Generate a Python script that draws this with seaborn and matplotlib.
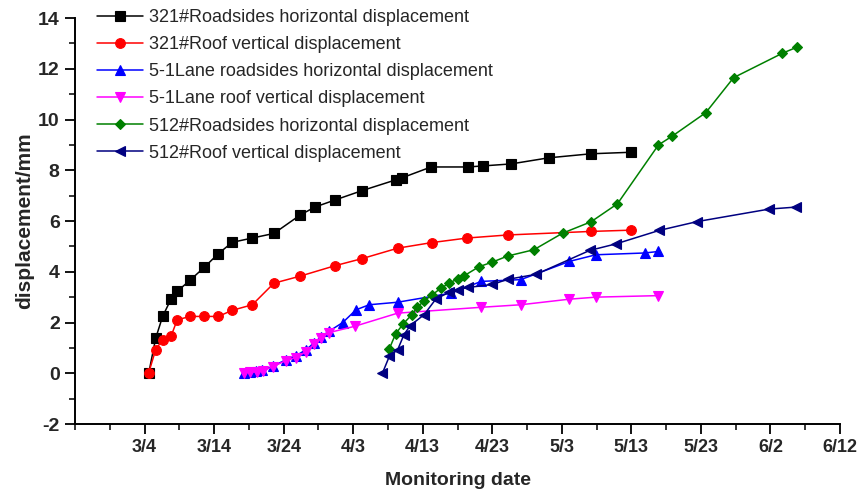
import matplotlib
matplotlib.use("Agg")
import matplotlib.pyplot as plt
from matplotlib.ticker import MultipleLocator
import pandas as pd
import seaborn as sns

# Monitoring day (days after 3/4) and displacement in mm for each survey line
day_321_side = [0.6, 1.6, 2.6, 3.8, 4.7, 6.6, 8.6, 10.6, 12.6, 15.5, 18.6, 22.4, 24.5,
                27.4, 31.3, 36.1, 37.0, 41.2, 46.5, 48.6, 52.7, 58.1, 64.2, 70.0]
disp_321_side = [0.0, 1.38, 2.24, 2.92, 3.23, 3.68, 4.18, 4.71, 5.16, 5.33, 5.51, 6.24, 6.55,
                 6.83, 7.20, 7.62, 7.70, 8.13, 8.13, 8.17, 8.25, 8.49, 8.65, 8.71]

day_321_roof = [0.6, 1.6, 2.6, 3.8, 4.7, 6.6, 8.6, 10.6, 12.6, 15.5, 18.6, 22.4, 27.4,
                31.3, 36.4, 41.3, 46.4, 52.2, 64.2, 70.0]
disp_321_roof = [0.02, 0.93, 1.33, 1.45, 2.11, 2.24, 2.24, 2.24, 2.48, 2.70, 3.55, 3.83, 4.24,
                 4.52, 4.93, 5.15, 5.33, 5.45, 5.59, 5.64]

day_51_side = [14.3, 15.1, 16.0, 16.9, 18.4, 20.3, 21.8, 23.2, 24.4, 25.4, 26.5, 28.5,
               30.4, 32.3, 36.4, 44.1, 48.4, 54.1, 61.1, 64.9, 71.9, 73.9]
disp_51_side = [0.03, 0.06, 0.08, 0.12, 0.27, 0.53, 0.69, 0.93, 1.19, 1.43, 1.65, 2.00,
                2.50, 2.70, 2.80, 3.16, 3.62, 3.69, 4.41, 4.67, 4.74, 4.80]

day_51_roof = [14.3, 15.2, 16.2, 17.0, 18.4, 20.3, 21.8, 23.2, 24.4, 25.4, 26.5, 30.2,
               36.4, 48.4, 54.1, 61.1, 64.9, 73.9]
disp_51_roof = [0.02, 0.05, 0.05, 0.10, 0.25, 0.50, 0.62, 0.85, 1.15, 1.40, 1.60, 1.85,
                2.37, 2.60, 2.70, 2.92, 3.00, 3.06]

day_512_side = [35.2, 36.1, 37.2, 38.4, 39.2, 40.2, 41.4, 42.6, 43.8, 45.0, 46.0, 48.1,
                50.0, 52.2, 56.0, 60.1, 64.2, 68.0, 73.9, 75.9, 80.7, 84.7, 91.7, 93.8]
disp_512_side = [0.97, 1.55, 1.95, 2.30, 2.60, 2.85, 3.10, 3.35, 3.55, 3.72, 3.85, 4.20,
                 4.38, 4.62, 4.87, 5.52, 5.97, 6.68, 9.00, 9.35, 10.27, 11.65, 12.61, 12.85]

day_512_roof = [34.2, 35.2, 36.4, 37.3, 38.2, 40.2, 41.9, 43.8, 45.0, 46.5, 50.0, 52.2,
                56.3, 64.0, 67.8, 74.0, 79.5, 89.8, 93.7]
disp_512_roof = [0.0, 0.67, 0.93, 1.52, 1.88, 2.31, 2.93, 3.19, 3.30, 3.38, 3.50, 3.70,
                 3.90, 4.84, 5.10, 5.63, 5.98, 6.47, 6.55]

series_names = [
    "321#Roadsides horizontal displacement",
    "321#Roof vertical displacement",
    "5-1Lane roadsides horizontal displacement",
    "5-1Lane roof vertical displacement",
    "512#Roadsides horizontal displacement",
    "512#Roof vertical displacement",
]

date_labels = ["3/4", "3/14", "3/24", "4/3", "4/13", "4/23", "5/3", "5/13", "5/23", "6/2", "6/12"]

sns.set_theme(style="ticks")
plt.rcParams["font.family"] = ["Liberation Sans", "DejaVu Sans"]
plt.rcParams["axes.unicode_minus"] = False

series = [
    (day_321_side, disp_321_side, "black", "s", 6.5),
    (day_321_roof, disp_321_roof, "#ff0000", "o", 7.0),
    (day_51_side, disp_51_side, "#0000ff", "^", 7.0),
    (day_51_roof, disp_51_roof, "#ff00ff", "v", 7.0),
    (day_512_side, disp_512_side, "#008000", "D", 5.5),
    (day_512_roof, disp_512_roof, "#000080", "<", 7.0),
]

fig = plt.figure(figsize=(8.62, 4.95), dpi=100)
ax = fig.add_axes([0.087, 0.1434, 0.8875, 0.8202])

for (x, y, color, marker, ms), name in zip(series, series_names):
    frame = pd.DataFrame({"day": x, "disp": y})
    sns.lineplot(data=frame, x="day", y="disp", ax=ax, color=color, marker=marker,
                 markersize=ms, markeredgecolor=color, markeredgewidth=0.8,
                 linewidth=1.1, label=name, sort=False)

# date ticks: days counted from 3/4
start = pd.Timestamp("2017-03-04")
tick_days = [(pd.Timestamp("2017/" + lbl) - start).days for lbl in date_labels]
ax.set_xlim(-10, 100)
ax.set_xticks(tick_days)
ax.set_xticklabels(date_labels, fontsize=13, fontweight="bold")
ax.xaxis.set_minor_locator(MultipleLocator(5))

ax.set_ylim(-2, 14)
ax.yaxis.set_major_locator(MultipleLocator(2))
ax.yaxis.set_minor_locator(MultipleLocator(1))
for lbl in ax.get_yticklabels():
    lbl.set_fontsize(14)
    lbl.set_fontweight("bold")

ax.set_xlabel("Monitoring date", fontsize=14, fontweight="bold", labelpad=11)
ax.set_ylabel("displacement/mm", fontsize=15, fontweight="bold", labelpad=3)

sns.despine(ax=ax)
for side in ("left", "bottom"):
    ax.spines[side].set_linewidth(1.4)
    ax.spines[side].set_color("black")
ax.tick_params(axis="both", which="major", direction="out", length=7, width=1.3,
               color="black", pad=4)
ax.tick_params(axis="both", which="minor", direction="out", length=4, width=1.1,
               color="black")

leg = ax.legend(loc="upper left", bbox_to_anchor=(0.029, 1.022), frameon=False,
                fontsize=13, handlelength=2.55, handletextpad=0.33, labelspacing=0.56,
                borderpad=0, borderaxespad=0)

fig.savefig("out.png", dpi=100)
